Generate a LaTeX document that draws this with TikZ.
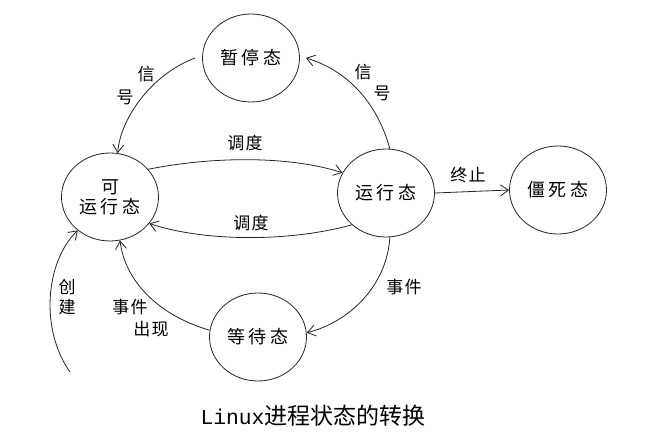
\documentclass[tikz,border=0pt]{standalone}
\usepackage{fontspec}
\setmainfont{Liberation Sans}
\newfontfamily\cjk{Noto Sans CJK SC}[LetterSpace=20]
\newfontfamily\cjklbl{Noto Sans CJK SC}[LetterSpace=8]
\newfontfamily\cjkcap{Noto Sans CJK SC}
\newfontfamily\monofam{Liberation Mono}
\usetikzlibrary{shapes.geometric,arrows.meta}
\tikzset{
  state/.style={ellipse, draw=black!85, line width=0.8pt, minimum width=97pt, minimum height=88pt,
    inner sep=0pt, align=center, text=black, font=\cjk\fontsize{18}{20}\selectfont},
  lbl/.style={inner sep=0pt, text=black, font=\cjklbl\fontsize{17}{18}\selectfont},
  arr/.style={draw=black!85, line width=0.8pt, -{Straight Barb[length=8pt,width=11pt]}},
}
\begin{document}
\begin{tikzpicture}[x=1pt,y=-1pt]
\useasboundingbox (0,0) rectangle (667,446);
\fill[white] (0,0) rectangle (667,446);
\node[state] (pause) at (251,58) {暂停态};
\node[state] (ready) at (110,197) {可\\运行态};
\node[state] (run) at (386,193) {运行态};
\node[state] (zombie) at (558,190) {僵死态};
\node[state] (wait) at (258,337) {等待态};
\coordinate (c0) at (70,372);
% connectors
\draw[arr] ([xshift=-7pt]pause.west) .. controls (150,75) and (120,120) .. (ready.80);
\draw[arr] (run.85) .. controls (375,95) and (340,68) .. ([xshift=6pt]pause.east);
\draw[arr] (ready.36) .. controls (215,156) and (290,156) .. (run.155);
\draw[arr] (run.223) .. controls (290,242) and (205,242) .. (ready.326);
\draw[arr] (run.east) -- (zombie.west);
\draw[arr] (run.275) .. controls (387,285) and (350,322) .. (wait.5);
\draw[arr] (wait.172) .. controls (160,316) and (125,282) .. (ready.283);
\draw[arr] (c0) .. controls (40,330) and (45,262) .. (ready.226);
% labels
\node[lbl] (l1) at (146,74) {信};
\node[lbl] (l2) at (125,97) {号};
\node[lbl] (l3) at (363,72) {信};
\node[lbl] (l4) at (382,93) {号};
\node[lbl] (l5) at (245,143) {调度};
\node[lbl] (l6) at (251,223) {调度};
\node[lbl] (l7) at (468,175) {终止};
\node[lbl] (l8) at (404,287) {事件};
\node[lbl] (l9) at (130,307) {事件};
\node[lbl] (l10) at (151,329) {出现};
\node[lbl] (l11) at (67,287) {创};
\node[lbl] (l12) at (67,307) {建};
\node[inner sep=0pt, text=black] (cap) at (313,416)
  {{\monofam\fontsize{21.3}{24}\selectfont Linux}{\cjkcap\fontsize{23}{26}\selectfont 进程状态的转换}};
\end{tikzpicture}
\end{document}
